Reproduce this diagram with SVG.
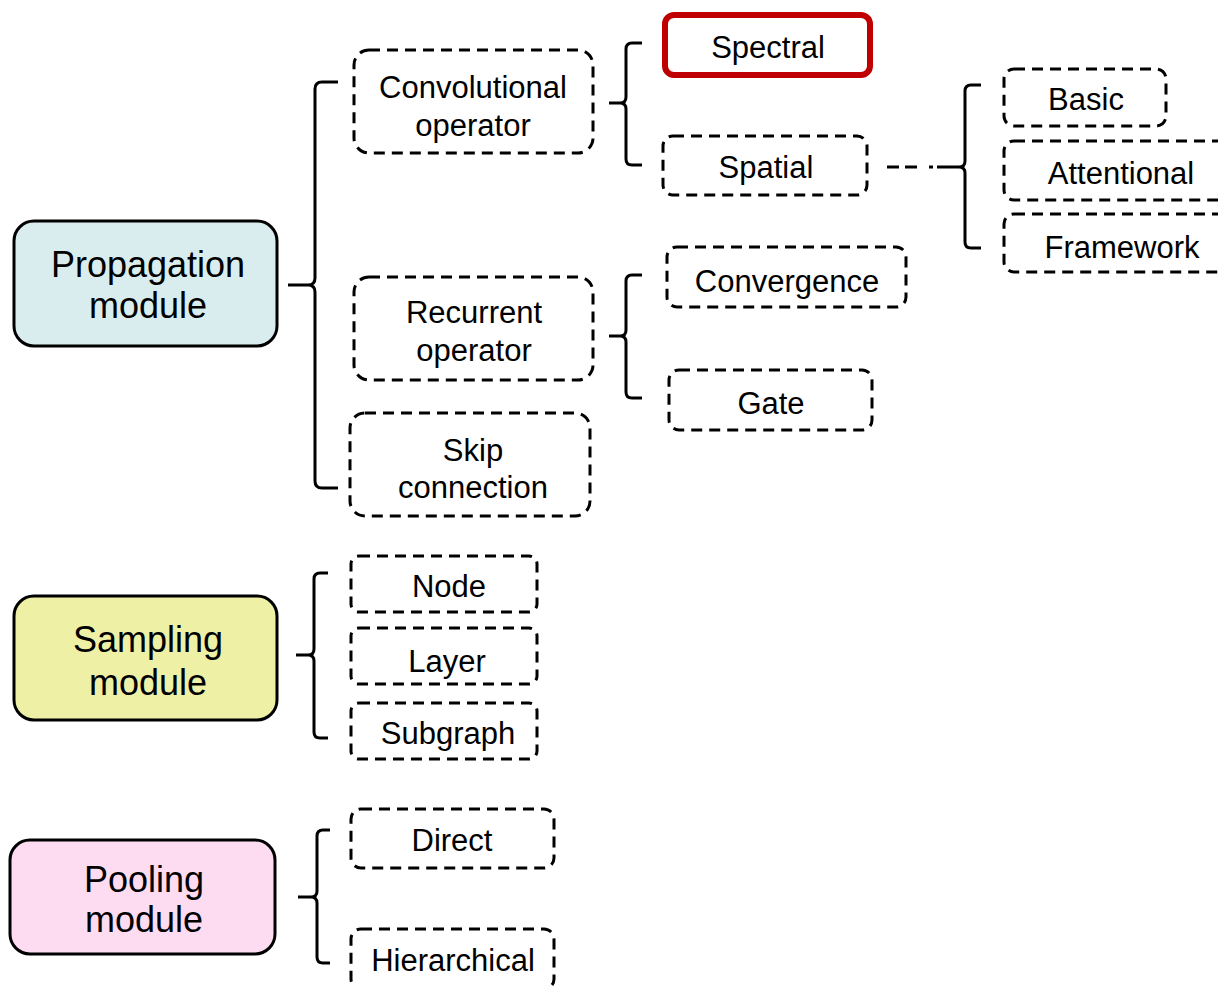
<svg xmlns="http://www.w3.org/2000/svg" width="1218" height="986" viewBox="0 0 1218 986">
<style>
.mod{stroke:#000;stroke-width:3}
.sub{fill:#fff;stroke:#000;stroke-width:3;stroke-dasharray:11 7}
.hl{fill:#fff;stroke:#c00000;stroke-width:6}
.br{fill:none;stroke:#000;stroke-width:3;stroke-linejoin:round}
.dd{fill:none;stroke:#000;stroke-width:3;stroke-dasharray:12 6 12 12 4 4}
text{font-family:"Liberation Sans",Arial,sans-serif;fill:#000;text-anchor:middle}
.big{font-size:36px}
.sm{font-size:31px}
</style>
<rect width="1218" height="986" fill="#fff"/>
<g id="connectors">
<path class="br" d="M288,285 L308,285 Q315,285 315,278 L315,89 Q315,82 322,82 L338,82 M308,285 Q315,285 315,292 L315,481 Q315,488 322,488 L338,488"/>
<path class="br" d="M609,103 L620,103 Q626,103 626,97 L626,49 Q626,43 632,43 L642,43 M620,103 Q626,103 626,109 L626,159 Q626,165 632,165 L642,165"/>
<path class="br" d="M609,336 L620,336 Q626,336 626,330 L626,281 Q626,275 632,275 L642,275 M620,336 Q626,336 626,342 L626,392 Q626,398 632,398 L642,398"/>
<path class="dd" d="M887,167 L948,167"/>
<path class="br" d="M948,167 L959,167 Q965,167 965,161 L965,91 Q965,85 971,85 L981,85 M959,167 Q965,167 965,173 L965,242 Q965,248 971,248 L981,248"/>
<path class="br" d="M296,655 L308,655 Q314,655 314,649 L314,579 Q314,573 320,573 L328,573 M308,655 Q314,655 314,661 L314,732 Q314,738 320,738 L328,738"/>
<path class="br" d="M298,897 L311,897 Q317,897 317,891 L317,836 Q317,830 323,830 L330,830 M311,897 Q317,897 317,903 L317,957 Q317,963 323,963 L330,963"/>
</g>
<g id="propagation">
<rect class="mod" x="14" y="221" width="263" height="125" rx="20" fill="#daedee"/>
<text class="big" x="148" y="277">Propagation</text>
<text class="big" x="148" y="318">module</text>
</g>
<g id="sampling">
<rect class="mod" x="14" y="596" width="263" height="124" rx="20" fill="#eef0a6"/>
<text class="big" x="148" y="652">Sampling</text>
<text class="big" x="148" y="695">module</text>
</g>
<g id="pooling">
<rect class="mod" x="10" y="840" width="265" height="114" rx="20" fill="#fddcf2"/>
<text class="big" x="144" y="892">Pooling</text>
<text class="big" x="144" y="932">module</text>
</g>
<g id="convolutional">
<rect class="sub" x="354" y="50" width="239" height="103" rx="15"/>
<text class="sm" x="473" y="98">Convolutional</text>
<text class="sm" x="473" y="136">operator</text>
</g>
<g id="spectral">
<rect class="hl" x="665" y="15" width="205" height="60" rx="9"/>
<text class="sm" x="768" y="58">Spectral</text>
</g>
<g id="spatial">
<rect class="sub" x="663" y="136" width="204" height="59" rx="10"/>
<text class="sm" x="766" y="178">Spatial</text>
</g>
<g id="basic">
<rect class="sub" x="1004" y="69" width="162" height="57" rx="10"/>
<text class="sm" x="1086" y="110">Basic</text>
</g>
<g id="attentional">
<rect class="sub" x="1004" y="141" width="240" height="59" rx="10"/>
<text class="sm" x="1121" y="184">Attentional</text>
</g>
<g id="framework">
<rect class="sub" x="1004" y="214" width="240" height="58" rx="10"/>
<text class="sm" x="1122" y="258">Framework</text>
</g>
<g id="recurrent">
<rect class="sub" x="354" y="277" width="239" height="103" rx="15"/>
<text class="sm" x="474" y="323">Recurrent</text>
<text class="sm" x="474" y="361">operator</text>
</g>
<g id="convergence">
<rect class="sub" x="667" y="247" width="239" height="60" rx="10"/>
<text class="sm" x="787" y="292">Convergence</text>
</g>
<g id="gate">
<rect class="sub" x="669" y="370" width="203" height="60" rx="10"/>
<text class="sm" x="771" y="414">Gate</text>
</g>
<g id="skip">
<rect class="sub" x="350" y="413" width="240" height="103" rx="15"/>
<text class="sm" x="473" y="461">Skip</text>
<text class="sm" x="473" y="498">connection</text>
</g>
<g id="node">
<rect class="sub" x="351" y="556" width="186" height="56" rx="8"/>
<text class="sm" x="449" y="597">Node</text>
</g>
<g id="layer">
<rect class="sub" x="351" y="628" width="186" height="56" rx="8"/>
<text class="sm" x="447" y="672">Layer</text>
</g>
<g id="subgraph">
<rect class="sub" x="351" y="703" width="186" height="56" rx="8"/>
<text class="sm" x="448" y="744">Subgraph</text>
</g>
<g id="direct">
<rect class="sub" x="351" y="809" width="203" height="59" rx="10"/>
<text class="sm" x="452" y="851">Direct</text>
</g>
<g id="hierarchical">
<rect class="sub" x="351" y="929" width="203" height="60" rx="10"/>
<text class="sm" x="453" y="971">Hierarchical</text>
</g>
</svg>
